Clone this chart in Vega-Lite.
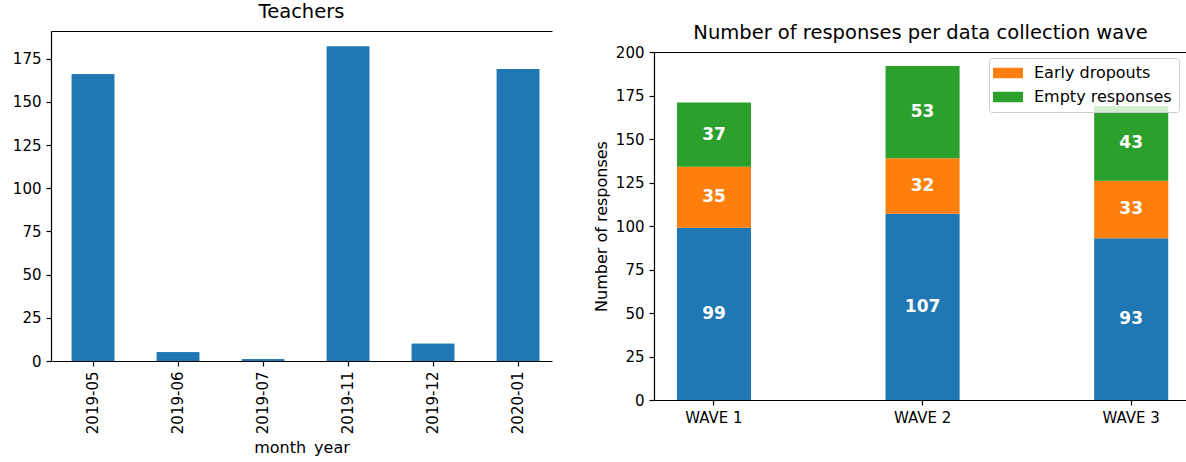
{
  "$schema": "https://vega.github.io/schema/vega-lite/v6.json",
  "padding": {"left": 12, "top": 1, "right": 0, "bottom": 0},
  "background": "white",
  "config": {
    "view": {"stroke": null},
    "font": "DejaVu Sans",
    "axis": {
      "labelFont": "DejaVu Sans", "labelFontSize": 15, "labelColor": "#000000",
      "titleFont": "DejaVu Sans", "titleFontSize": 16, "titleFontWeight": "normal", "titleColor": "#000000",
      "domainColor": "#000000", "domainWidth": 1.2, "tickColor": "#000000", "tickWidth": 1.2, "tickSize": 5,
      "labelPadding": 5, "titlePadding": 6, "grid": false
    },
    "title": {"font": "DejaVu Sans", "fontSize": 19.5, "fontWeight": "normal", "color": "#000000", "offset": 9}
  },
  "datasets": {
    "teachers": [
      {"month_year": "2019-05", "count": 166},
      {"month_year": "2019-06", "count": 5},
      {"month_year": "2019-07", "count": 1},
      {"month_year": "2019-11", "count": 182},
      {"month_year": "2019-12", "count": 10},
      {"month_year": "2020-01", "count": 169}
    ],
    "waves": [
      {"wave": "WAVE 1", "category": "Complete responses", "n": 99},
      {"wave": "WAVE 1", "category": "Early dropouts", "n": 35},
      {"wave": "WAVE 1", "category": "Empty responses", "n": 37},
      {"wave": "WAVE 2", "category": "Complete responses", "n": 107},
      {"wave": "WAVE 2", "category": "Early dropouts", "n": 32},
      {"wave": "WAVE 2", "category": "Empty responses", "n": 53},
      {"wave": "WAVE 3", "category": "Complete responses", "n": 93},
      {"wave": "WAVE 3", "category": "Early dropouts", "n": 33},
      {"wave": "WAVE 3", "category": "Empty responses", "n": 43}
    ]
  },
  "resolve": {"scale": {"color": "independent"}, "legend": {"color": "independent"}},
  "spacing": 41,
  "hconcat": [
    {
      "title": "Teachers",
      "width": 501,
      "height": 330,
      "data": {"name": "teachers"},
      "resolve": {"axis": {"x": "independent"}},
      "layer": [
        {
          "mark": {"type": "bar", "color": "#1f77b4"},
          "encoding": {
            "x": {"field": "month_year", "type": "nominal", "sort": null,
                  "scale": {"paddingInner": 0.5, "paddingOuter": 0.197, "align": 0.62},
                  "axis": {"labelAngle": 270, "title": "month_year"}},
            "y": {"field": "count", "type": "quantitative",
                  "scale": {"domain": [0, 191], "nice": false},
                  "axis": {"values": [0, 25, 50, 75, 100, 125, 150, 175], "title": null}}
          }
        },
        {
          "mark": {"type": "bar", "color": "#1f77b4"},
          "encoding": {
            "x": {"field": "month_year", "type": "nominal", "sort": null,
                  "axis": {"orient": "top", "labels": false, "ticks": false, "title": null}},
            "y": {"field": "count", "type": "quantitative"}
          }
        }
      ]
    },
    {
      "title": {"text": "Number of responses per data collection wave", "offset": -12},
      "width": 533,
      "height": 369,
      "data": {"name": "waves"},
      "resolve": {"axis": {"x": "independent"}},
      "layer": [
        {
          "mark": {"type": "bar"},
          "encoding": {
            "x": {"field": "wave", "type": "nominal", "sort": null,
                  "scale": {"paddingInner": 0.645, "paddingOuter": 0.1, "align": 0.55},
                  "axis": {"labelAngle": 0, "title": null}},
            "y": {"field": "n", "type": "quantitative", "stack": "zero",
                  "scale": {"domain": [0, 200], "nice": false, "range": [369, 21]},
                  "axis": {"values": [0, 25, 50, 75, 100, 125, 150, 175, 200], "title": "Number of responses"}},
            "color": {"field": "category", "type": "nominal",
                      "scale": {"domain": ["Complete responses", "Early dropouts", "Empty responses"],
                                "range": ["#1f77b4", "#ff7f0e", "#2ca02c"]},
                      "legend": {"orient": "none", "legendX": 335, "legendY": 27, "title": null,
                                 "values": ["Early dropouts", "Empty responses"],
                                 "symbolType": "M-1.375,-0.656H2.375V0.656H-1.375Z", "symbolSize": 256,
                                 "symbolStrokeWidth": 0, "symbolOpacity": 1,
                                 "labelFont": "DejaVu Sans", "labelFontSize": 16, "labelColor": "#000000",
                                 "strokeColor": "#cccccc", "fillColor": "rgba(255,255,255,0.8)",
                                 "cornerRadius": 3, "padding": 7, "rowPadding": 8, "labelOffset": 22}},
            "order": {"field": "category", "sort": "ascending"}
          }
        },
        {
          "mark": {"type": "text", "color": "white", "fontWeight": "bold", "fontSize": 17, "font": "DejaVu Sans", "baseline": "middle"},
          "encoding": {
            "x": {"field": "wave", "type": "nominal", "sort": null,
                  "axis": {"orient": "top", "offset": -21, "labels": false, "ticks": false, "title": null}},
            "y": {"field": "n", "type": "quantitative", "stack": "zero", "bandPosition": 0.5},
            "text": {"field": "n", "type": "quantitative"},
            "order": {"field": "category", "sort": "ascending"}
          }
        }
      ]
    }
  ]
}
